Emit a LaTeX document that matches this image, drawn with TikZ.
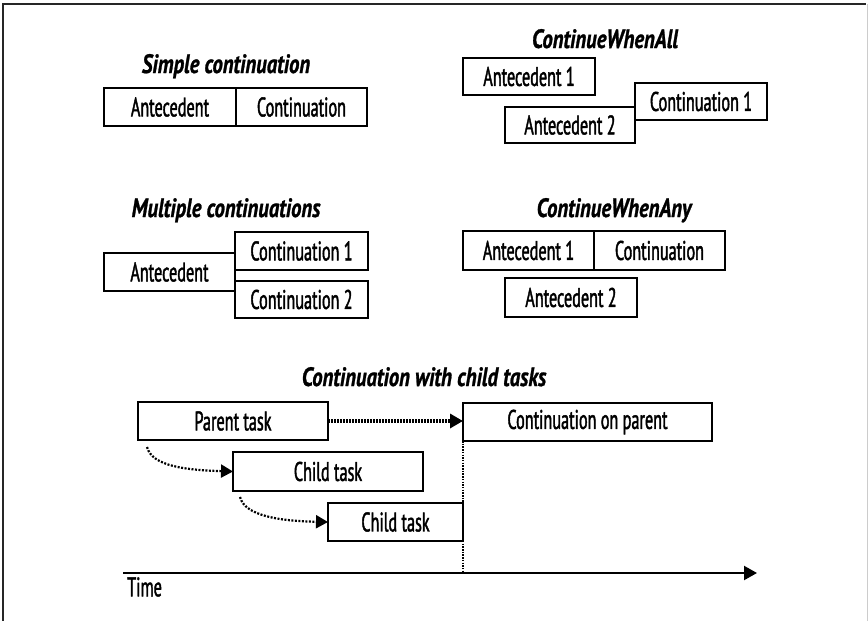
\documentclass[tikz,border=0pt]{standalone}
\usepackage{fontspec}
\setmainfont{PT Sans}[FakeStretch=0.6]
\newfontfamily\boxfont{PT Sans}[FakeStretch=0.6, FakeBold=1.5]
\newfontfamily\ttlfont{PT Sans}[FakeStretch=0.78, FakeBold=1]
\usetikzlibrary{arrows.meta}
\tikzset{
  box/.style={draw, line width=2pt, rectangle, inner sep=0pt, outer sep=0pt,
    font=\fontsize{27}{29}\boxfont, anchor=north west},
  ttl/.style={font=\fontsize{26.5}{28}\ttlfont\bfseries\itshape, anchor=base, inner sep=0pt},
  tip/.style={-{Triangle[length=13pt,width=14pt]}},
  dotarrow/.style={tip, line width=3.5pt, dash pattern=on 2pt off 1pt},
  curvearrow/.style={-{Triangle[length=12pt,width=13pt]}, line width=2.2pt, dash pattern=on 2pt off 1.5pt},
}
\newcommand{\bx}[6]{\node[box, minimum width=#4-#2, minimum height=#5-#3] (#1) at (#2,#3) {#6};}
\begin{document}
\begin{tikzpicture}[x=1pt,y=-1pt]
\useasboundingbox (0,0) rectangle (868,621);
% frame
\draw[line width=1.6pt, black!85] (3,621) -- (3,4) -- (866,4);
\draw[line width=1pt, black!20] (867,4) -- (867,621);

% Simple continuation
\node[ttl] (t1) at (226,73) {Simple continuation};
\bx{sa}{104}{88}{236}{126}{Antecedent}
\bx{sc}{236}{88}{367}{126}{Continuation}

% ContinueWhenAll
\node[ttl] (t2) at (605,48) {ContinueWhenAll};
\bx{wa1}{463}{58}{595}{95}{Antecedent 1}
\bx{wc1}{635}{83}{767}{120}{Continuation 1}
\bx{wa2}{505}{107}{635}{143}{Antecedent 2}

% Multiple continuations
\node[ttl] (t3) at (226,217) {Multiple continuations};
\bx{ma}{104}{253}{235}{291}{Antecedent}
\bx{mc1}{235}{232}{368}{270}{Continuation 1}
\bx{mc2}{235}{281}{368}{318}{Continuation 2}

% ContinueWhenAny
\node[ttl] (t4) at (614,217) {ContinueWhenAny};
\bx{ya1}{463}{231}{594}{270}{Antecedent 1}
\bx{yc}{594}{231}{725}{270}{Continuation}
\bx{ya2}{505}{278}{637}{317}{Antecedent 2}

% Continuation with child tasks
\node[ttl] (t5) at (424,386) {Continuation with child tasks};
\bx{pt}{138}{402}{328}{440}{Parent task}
\bx{cp}{463}{403}{712}{441}{Continuation on parent}
\bx{ch1}{233}{452}{423}{491}{Child task}
\bx{ch2}{328}{503}{463}{541}{Child task}

\coordinate (ax0) at (123,573);
\coordinate (ax1) at (757,573);
\coordinate (c1s) at (147,447);
\coordinate (c2s) at (240,497);
\coordinate (vb) at (cp.south west |- ax0);

\draw[dotarrow] (pt.east) -- (pt.east -| cp.west);
\draw[line width=1.8pt, dash pattern=on 1.5pt off 1.2pt] (cp.south west) -- (vb);
\draw[curvearrow] (c1s) .. controls (152,466) and (185,470) .. (ch1.west);
\draw[curvearrow] (c2s) .. controls (245,516) and (280,521) .. (ch2.west);
\draw[line width=2.2pt, tip] (ax0) -- (ax1);
\node[anchor=north west, inner sep=0pt, font=\fontsize{27}{29}\boxfont] (time) at (127,577) {Time};
\end{tikzpicture}
\end{document}
